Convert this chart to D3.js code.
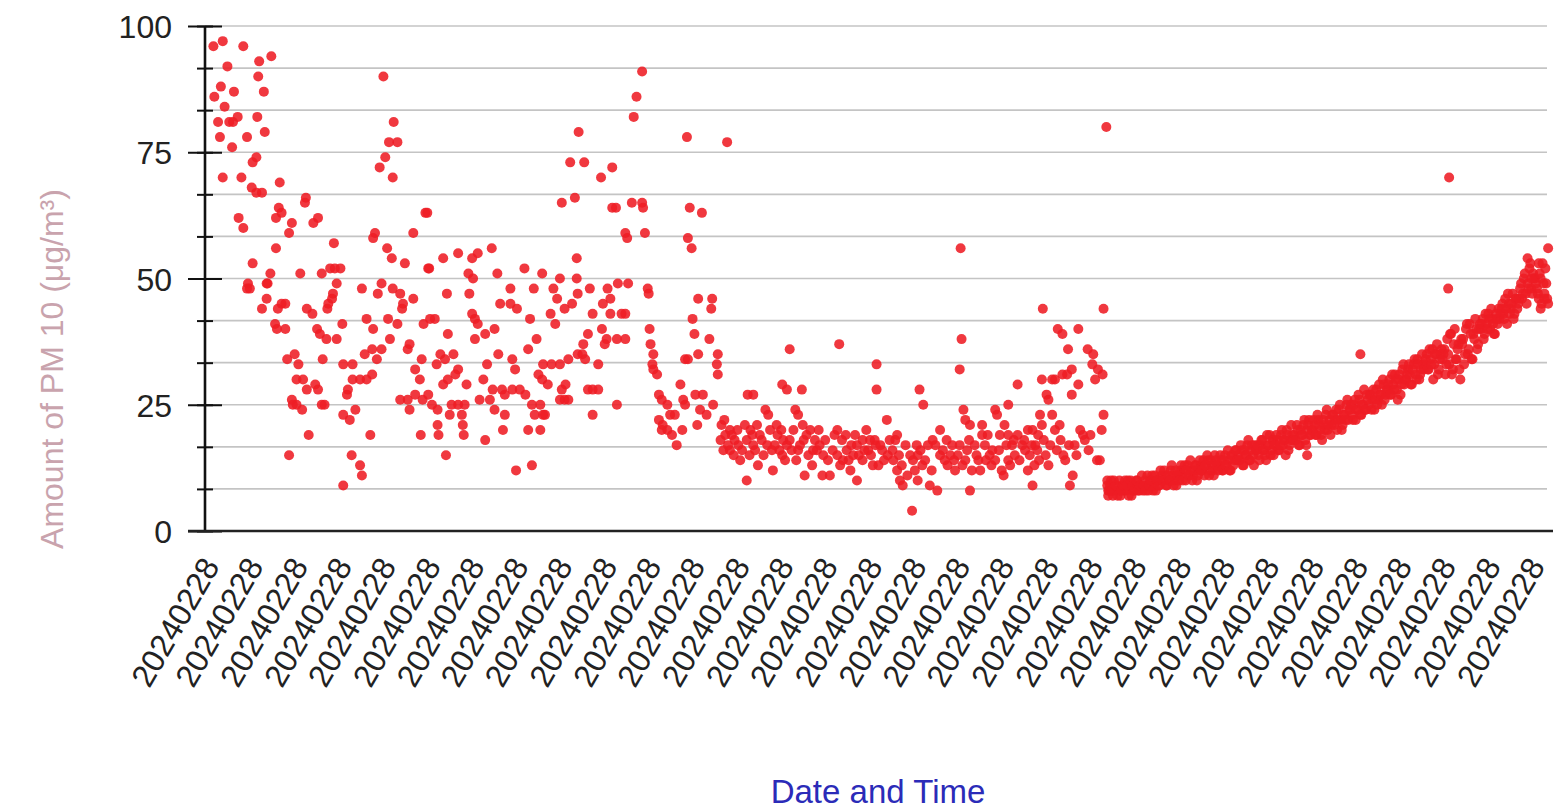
<!DOCTYPE html>
<html>
<head>
<meta charset="utf-8">
<script src="https://cdn.jsdelivr.net/npm/d3@7"></script>
<style>
  html, body { margin: 0; padding: 0; background: #ffffff; }
  svg { display: block; }
  text { font-family: "Liberation Sans", Arial, sans-serif; }
</style>
</head>
<body>
<svg id="chart" width="1556" height="812"></svg>
<script>
// PM10 readings on 2024-02-28: [minute of day, µg/m³]
const earlyReadings = [
  [9,96],[19,97],[41,96],[24,92],[58,93],[71,94],[57,90],[17,88],[10,86],[31,87],[63,87],[21,84],[14,81],[26,81],[30,81],[35,82],[56,82],[16,78],[45,78],[64,79],[29,76],[51,73],[55,74],[19,70],[39,70],[50,68],[55,67],[61,67],[80,69],[108,66],[107,65],[79,64],[76,62],[82,63],[93,61],[90,59],[116,61],[121,62],[36,62],[41,60],[76,56],[138,57],[180,58],[182,59],[223,59],[236,63],[191,90],[202,81],[197,77],[206,77],[193,74],[187,72],[201,70],[51,53],[46,49],[45,48],[48,48],[70,51],[67,49],[66,49],[102,51],[66,46],[61,44],[82,45],[86,45],[78,44],[75,41],[77,40],[86,40],[125,51],[134,52],[139,52],[145,52],[141,49],[137,47],[136,46],[132,45],[131,44],[109,44],[115,43],[120,40],[123,39],[130,38],[141,38],[147,41],[88,34],[96,35],[100,33],[126,34],[148,33],[158,33],[98,30],[105,30],[109,28],[118,29],[121,28],[93,26],[98,25],[104,24],[94,25],[125,25],[128,25],[152,27],[153,28],[158,30],[166,30],[173,30],[179,31],[148,23],[155,22],[161,24],[111,19],[177,19],[90,15],[157,15],[166,13],[168,11],[148,9],[171,35],[179,36],[184,34],[189,36],[173,42],[180,40],[198,38],[168,48],[185,47],[189,49],[195,56],[200,54],[214,53],[201,48],[209,47],[212,45],[211,44],[196,42],[206,41],[223,46],[219,37],[217,36],[232,34],[225,32],[230,30],[209,26],[217,26],[225,27],[233,26],[219,24],[231,19],[234,41],[239,52]
];

const morningReadings = [
  [238,63],[468,91],[462,86],[459,82],[400,79],[391,73],[406,73],[424,70],[436,72],[382,65],[396,66],[436,64],[440,64],[457,65],[468,65],[469,64],[450,59],[452,58],[471,59],[307,56],[292,55],[286,54],[271,55],[255,54],[240,52],[282,51],[287,50],[313,51],[342,52],[361,51],[398,54],[398,50],[380,50],[259,47],[283,47],[327,48],[352,48],[373,48],[377,46],[316,45],[327,45],[334,44],[399,47],[412,48],[431,48],[442,49],[453,49],[474,48],[475,47],[426,45],[434,46],[385,44],[393,45],[370,43],[375,41],[415,43],[434,43],[446,43],[450,43],[246,42],[241,42],[286,43],[289,42],[292,41],[348,42],[260,39],[289,38],[300,39],[310,40],[355,38],[346,36],[410,39],[425,40],[430,38],[441,38],[450,38],[428,37],[405,37],[404,35],[407,34],[476,40],[477,37],[252,35],[266,35],[257,34],[248,33],[271,32],[268,31],[260,30],[255,29],[280,29],[314,35],[302,33],[329,34],[332,32],[362,33],[371,33],[380,33],[389,34],[399,35],[421,33],[357,31],[361,30],[367,29],[298,30],[308,28],[318,28],[329,28],[337,28],[343,27],[321,27],[305,26],[294,26],[239,27],[243,25],[249,24],[264,25],[271,25],[278,25],[262,23],[275,23],[249,21],[250,19],[276,21],[277,19],[350,25],[359,25],[362,23],[364,23],[353,23],[310,24],[321,23],[382,28],[385,26],[380,26],[389,26],[386,29],[410,28],[415,28],[421,28],[441,25],[415,23],[300,18],[319,20],[346,20],[359,20],[258,15],[333,12],[350,13],[479,33],[480,32]
];

const middayReadings = [
  [516,78],[559,77],[519,64],[532,63],[517,58],[521,56],[528,46],[543,46],[542,44],[522,42],[524,39],[540,38],[480,35],[484,31],[514,34],[517,34],[528,35],[549,35],[548,33],[549,31],[486,27],[489,26],[495,25],[509,29],[512,26],[514,25],[525,27],[533,27],[530,24],[537,23],[544,25],[527,21],[486,22],[490,21],[498,23],[503,23],[495,20],[500,19],[505,17],[511,20],[489,20],[553,21],[557,19],[562,20],[555,16],[562,16],[571,17],[573,14],[567,18],[581,27],[587,27],[584,20],[591,21],[594,19],[602,17],[580,18],[587,17],[600,24],[603,23],[612,21],[613,19],[610,17],[618,15],[623,17],[626,18],[619,18],[592,13],[608,12],[580,10],[618,29],[623,28],[639,28],[626,36],[632,24],[635,23],[640,21],[648,20],[644,19],[637,17],[635,16],[653,18],[658,17],[662,15],[667,14],[655,16],[650,13],[642,11],[661,11],[669,11],[677,20],[682,18],[687,16],[677,15],[683,14],[694,15],[698,17],[704,18],[712,18],[710,16],[704,14],[715,13],[698,10],[691,12],[679,37],[719,33],[719,28],
  [552,18],[556,22],[560,17],[564,19],[566,15],[570,20],[575,16],[578,21],[583,15],[586,19],[589,16],[596,18],[598,15],[605,20],[607,16],[615,16],[617,20],[621,14],[628,16],[630,20],[633,14],[641,18],[646,15],[651,16],[657,20],[664,18],[672,16],[674,19],[680,13],[686,19],[689,14],[692,17],[696,19],[700,15],[706,16],[708,20],[713,15],[718,17]
];

const afternoonReadings = [
  [965,80],[809,56],[810,38],[808,32],[897,44],[962,44],[913,40],[918,39],[935,40],[924,36],[928,32],[945,36],[951,35],[950,33],[956,32],[961,31],[953,30],[910,30],[918,31],[923,31],[896,30],[907,30],[935,29],[928,27],[901,27],[903,26],[894,23],[907,23],[915,21],[910,20],[870,29],[860,25],[765,28],[769,25],[730,22],[741,19],[739,18],[717,18],[725,16],[731,15],[737,14],[721,13],[741,12],[744,10],[747,9],[752,11],[757,4],[762,17],[763,15],[758,14],[768,13],[763,10],[776,9],[784,8],[779,18],[787,20],[782,17],[787,15],[792,14],[800,17],[795,13],[803,12],[806,15],[812,24],[814,22],[819,21],[819,8],[814,14],[824,17],[821,12],[832,21],[832,19],[835,17],[840,15],[846,14],[843,16],[828,14],[853,12],[855,11],[846,24],[848,23],[856,21],[851,19],[860,19],[864,17],[867,15],[860,14],[870,19],[875,17],[878,16],[885,17],[881,20],[886,20],[892,19],[891,16],[896,21],[881,12],[888,13],[886,9],[903,13],[919,15],[931,17],[940,19],[942,18],[929,11],[926,9],[955,14],[960,20],[962,23],[966,10],[967,8],[958,14],
  [723,17],[727,14],[733,18],[736,16],[743,15],[746,13],[750,17],[755,15],[760,12],[766,16],[771,14],[774,17],[778,12],[790,16],[794,18],[798,15],[802,14],[808,17],[811,13],[816,16],[818,18],[826,15],[830,12],[836,14],[838,19],[842,13],[850,16],[858,17],[862,13],[866,18],[872,14],[877,18],[883,15],[889,17],[893,14],[898,18],[900,15],[905,17],[912,16],[916,18],[921,14],[925,17],[933,15],[937,20],[946,16],[948,19]
];

// Evening readings, logged on alternate minutes by two channels:
// channel A from 16:06, channel B from 16:07, both every 2 minutes
const eveningStartA = 966;
const eveningStartB = 967;
const eveningStep = 2;
const eveningValuesA = [
  9, 8, 10, 7, 8, 9, 8, 7, 9, 8,
  8, 10, 9, 7, 8, 9, 10, 8, 9, 8,
  10, 9, 8, 10, 11, 9, 8, 10, 9, 11,
  10, 11, 9, 10, 12, 11, 10, 9, 11, 12,
  11, 12, 10, 13, 11, 12, 11, 13, 10, 12,
  13, 12, 11, 13, 14, 12, 13, 11, 14, 13,
  13, 14, 12, 15, 13, 14, 12, 15, 14, 16,
  15, 14, 16, 13, 15, 17, 14, 16, 15, 17,
  16, 15, 17, 18, 16, 14, 17, 19, 16, 18,
  17, 18, 16, 19, 17, 18, 20, 16, 18, 19,
  19, 18, 20, 17, 19, 21, 18, 20, 22, 19,
  20, 21, 19, 22, 20, 18, 21, 23, 20, 22,
  21, 23, 22, 20, 24, 22, 21, 23, 25, 22,
  24, 23, 25, 22, 24, 26, 23, 25, 24, 27,
  25, 27, 26, 24, 28, 26, 27, 25, 29, 27,
  28, 30, 27, 29, 31, 28, 30, 27, 32, 29,
  30, 32, 31, 29, 33, 31, 34, 30, 32, 33,
  33, 35, 32, 34, 36, 33, 35, 31, 34, 36,
  35, 31, 38, 33, 39, 32, 40, 34, 37, 30,
  37, 33, 40, 35, 41, 34, 39, 42, 36, 40,
  40, 42, 39, 41, 43, 40, 42, 39, 43, 41,
  42, 44, 43, 46, 41, 45, 44, 47, 43, 46,
  45, 48, 46, 50, 47, 49, 52, 48, 51, 50,
  48, 46, 50, 53, 47, 49, 45
];
const eveningValuesB = [
  7, 9, 8, 10, 9, 7, 10, 8, 9, 10,
  9, 7, 10, 9, 8, 10, 8, 9, 11, 9,
  8, 11, 9, 10, 8, 11, 10, 9, 12, 10,
  12, 9, 11, 10, 13, 9, 12, 11, 10, 13,
  10, 13, 12, 11, 14, 10, 12, 13, 11, 14,
  12, 14, 13, 15, 11, 14, 12, 15, 13, 12,
  15, 12, 14, 13, 16, 12, 15, 13, 16, 14,
  14, 17, 13, 16, 15, 18, 14, 17, 13, 16,
  17, 14, 18, 16, 15, 19, 17, 15, 18, 17,
  19, 16, 17, 20, 18, 15, 19, 17, 21, 18,
  18, 21, 17, 20, 19, 22, 17, 21, 19, 20,
  22, 19, 23, 21, 19, 22, 20, 24, 21, 19,
  23, 21, 24, 22, 25, 20, 23, 22, 26, 24,
  25, 22, 26, 24, 27, 23, 25, 28, 24, 26,
  27, 24, 28, 26, 25, 29, 27, 30, 26, 28,
  29, 27, 31, 28, 30, 26, 31, 29, 33, 30,
  31, 33, 29, 32, 34, 30, 33, 31, 35, 32,
  34, 32, 36, 33, 30, 35, 37, 32, 35, 34,
  36, 33, 35, 39, 31, 37, 34, 36, 32, 38,
  38, 35, 41, 36, 39, 34, 38, 40, 37, 41,
  41, 38, 43, 40, 42, 44, 41, 39, 42, 44,
  43, 45, 42, 44, 47, 43, 45, 42, 46, 44,
  46, 49, 47, 51, 45, 48, 53, 47, 50, 49,
  47, 51, 45, 49, 52, 46
];
const eveningExtra = [[1144,15],[1180,15],[1237,35],[1331,48],[1332,70],[1438,56],[1416,54],[1428,53],[1420,50],[1434,46],[1430,44]];

// Category ticks along the time axis
const tickMinutes = [0, 47, 95, 142, 189, 237, 284, 331, 378, 426, 473, 520, 568, 615, 662, 710, 757, 804, 851, 899, 946, 993, 1041, 1088, 1135, 1183, 1230, 1277, 1324, 1372, 1419];
const tickLabels = tickMinutes.map(() => "20240228");
const yMajorTicks = [0, 25, 50, 75, 100];

const eveningA = eveningValuesA.map((v, i) => [eveningStartA + i * eveningStep, v]);
const eveningB = eveningValuesB.map((v, i) => [eveningStartB + i * eveningStep, v]);
const readings = [].concat(earlyReadings, morningReadings, middayReadings, afternoonReadings, eveningA, eveningB, eveningExtra);

const svg = d3.select("#chart");
const plotLeft = 205, plotRight = 1550, plotTop = 26, plotBottom = 531;

const x = d3.scaleLinear().domain([0, 1440]).range([plotLeft, plotRight]);
const y = d3.scaleLinear().domain([0, 100]).range([plotBottom, plotTop]);

const minorVals = d3.range(0, 13).map(i => i * 100 / 12);

// horizontal gridlines
svg.append("g")
  .selectAll("line")
  .data(minorVals.filter(v => v > 0))
  .join("line")
  .attr("x1", plotLeft).attr("x2", plotRight - 3)
  .attr("y1", d => y(d)).attr("y2", d => y(d))
  .attr("stroke", "#c4c4c4")
  .attr("stroke-width", 1.6);

// minor ticks on the value axis
const minorAxis = svg.append("g")
  .attr("transform", `translate(${plotLeft},0)`)
  .call(d3.axisLeft(y).tickValues(minorVals).tickSize(8).tickFormat(""));
minorAxis.select(".domain").remove();
minorAxis.selectAll(".tick line").attr("x1", 8).attr("stroke", "#111").attr("stroke-width", 2);

// major ticks with labels
const majorAxis = svg.append("g")
  .attr("transform", `translate(${plotLeft},0)`)
  .call(d3.axisLeft(y).tickValues(yMajorTicks).tickSize(17).tickPadding(16).tickFormat(d3.format("d")));
majorAxis.select(".domain").remove();
majorAxis.selectAll(".tick line").attr("x1", 17).attr("stroke", "#111").attr("stroke-width", 2.2);
majorAxis.selectAll(".tick text")
  .attr("font-size", 32)
  .attr("fill", "#222")
  .attr("dy", "0.36em");

// value axis line
svg.append("line")
  .attr("x1", plotLeft).attr("x2", plotLeft)
  .attr("y1", y(100)).attr("y2", y(0))
  .attr("stroke", "#111").attr("stroke-width", 2.6);

// time axis labels
const xAxis = svg.append("g")
  .attr("transform", `translate(0,${plotBottom})`)
  .call(d3.axisBottom(x).tickValues(tickMinutes).tickSize(0).tickFormat((d, i) => tickLabels[i]));
xAxis.select(".domain").remove();
xAxis.selectAll(".tick text")
  .attr("font-size", 32)
  .attr("fill", "#222")
  .attr("text-anchor", "end")
  .attr("x", 0).attr("y", 0).attr("dy", 0)
  .attr("transform", "translate(15,35) rotate(-60)");

// time axis line
svg.append("line")
  .attr("x1", plotLeft - 17).attr("x2", plotRight + 3)
  .attr("y1", y(0)).attr("y2", y(0))
  .attr("stroke", "#222").attr("stroke-width", 2.4);

// points
svg.append("g")
  .selectAll("circle")
  .data(readings)
  .join("circle")
  .attr("cx", d => x(d[0]))
  .attr("cy", d => y(d[1]))
  .attr("r", 5)
  .attr("fill", "#ee1c24")
  .attr("fill-opacity", 0.88);

// axis titles
svg.append("text")
  .attr("transform", "translate(52,369) rotate(-90)")
  .attr("text-anchor", "middle")
  .attr("dominant-baseline", "central")
  .attr("font-size", 32)
  .attr("fill", "#c9a3ad")
  .text("Amount of PM 10 (μg/m³)");

svg.append("text")
  .attr("x", 878).attr("y", 803)
  .attr("text-anchor", "middle")
  .attr("font-size", 33)
  .attr("fill", "#2b2bb8")
  .text("Date and Time");
</script>
</body>
</html>
